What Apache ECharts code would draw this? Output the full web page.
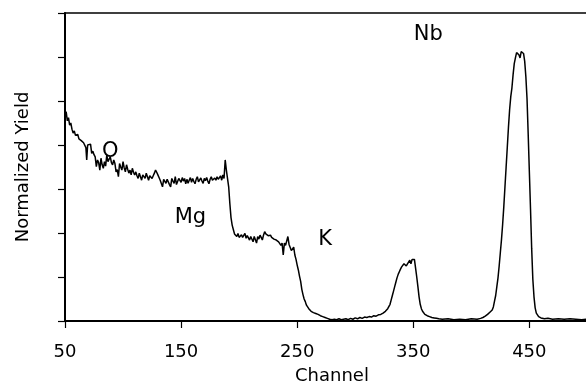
<!DOCTYPE html>
<html>
<head>
    <meta charset="utf-8">
    <style type="text/css" media="screen">
        html,body {
            margin: 0px; padding: 0px; height: 100%; background: #fff;
        }
    </style>
    <script src="https://cdn.jsdelivr.net/npm/echarts@6/dist/echarts.min.js"></script>
</head>
<body>
    <div id="canvas1" style="width: 586px; height: 387px;"></div>

    <script type="text/javascript">
        // spectrum: channel -> normalized yield
        var channels = [
            51,52,53,54,55,56,57,58,59,60,61,62,63,64,65,66,67,68,68.7,69.5,
            71,72,73,74,75,76,77,78,79,80,81,82,83,84,85,86,87,88,89,90,
            91,92,93,94,95,96,97,98,99,100,101,102,103,104,105,106,107,108,109,110,
            111,112,113,114,115,116,117,118,119,120,121,122,123,124,125,126,127,128,129,130,
            131,132,133,134,135,136,137,138,139,140,141,142,143,144,145,146,147,148,149,150,
            151,152,153,154,155,156,157,158,159,160,161,162,163,164,165,166,167,168,169,170,
            171,172,173,174,175,176,177,178,179,180,181,182,183,184,185,186,187,188,189,190,
            191,192,193,194,195,196,197,198,199,200,201,202,203,204,205,206,207,208,209,210,
            211,212,213,214,215,216,217,218,219,220,221,222,223,224,225,226,227,228,229,230,
            231,232,233,234,235,236,237,238,239,240,241,242,243,244,245,246,247,248,249,250,
            251,252,253,254,255,256,257,258,259,260,261,262,263,264,265,266,267,268,269,270,
            272,274,276,278,280,282,284,286,288,290,292,294,296,298,300,302,304,306,308,310,
            312,314,316,318,320,322,324,326,328,330,331,332,333,334,335,336,337,338,339,340,
            341,342,343,344,345,346,347,348,349,350,351,352,353,354,355,356,357,358,359,360,
            362,364,366,368,370,372,375,380,385,390,395,400,405,408,410,412,414,416,418,419,
            420,421,422,423,424,425,426,427,428,429,430,431,432,433,434,435,436,437,438,439,
            440,441,442,443,444,445,446,447,448,449,450,451,452,453,454,455,456,458,460,463,
            466,470,475,480,485,490,495,500,505
        ];
        var yields = [
            4.76,4.55,4.62,4.45,4.50,4.36,4.27,4.32,4.22,4.19,4.24,4.14,4.16,4.10,4.13,4.05,4.08,3.94,3.66,4.00,
            3.96,4.02,3.81,3.86,3.78,3.73,3.51,3.66,3.60,3.43,3.70,3.55,3.47,3.62,3.52,3.77,3.62,3.68,3.73,3.60,
            3.55,3.66,3.58,3.39,3.44,3.28,3.58,3.50,3.43,3.62,3.48,3.39,3.55,3.45,3.36,3.43,3.32,3.47,3.38,3.32,
            3.39,3.30,3.24,3.36,3.28,3.20,3.32,3.30,3.24,3.36,3.28,3.20,3.30,3.26,3.24,3.30,3.36,3.43,3.38,3.32,
            3.26,3.20,3.24,3.05,3.22,3.26,3.13,3.22,3.24,3.10,3.05,3.24,3.18,3.13,3.28,3.10,3.07,3.24,3.20,3.15,
            3.26,3.18,3.24,3.12,3.22,3.13,3.20,3.26,3.15,3.24,3.17,3.12,3.22,3.28,3.16,3.20,3.25,3.18,3.13,3.24,
            3.19,3.26,3.18,3.12,3.22,3.28,3.20,3.17,3.25,3.20,3.28,3.22,3.26,3.30,3.20,3.32,3.24,3.66,3.43,3.47,
            3.05,2.67,2.35,2.18,2.08,1.98,1.95,1.92,1.99,1.90,1.92,1.96,1.90,1.92,1.99,1.88,1.94,1.95,1.84,1.92,
            1.88,1.80,1.92,1.96,1.77,1.92,1.86,1.95,1.90,1.84,1.95,2.03,1.98,1.99,1.94,1.92,1.95,1.90,1.88,1.86,
            1.88,1.84,1.82,1.80,1.77,1.72,1.77,1.50,1.77,1.72,1.70,1.92,1.74,1.72,1.60,1.64,1.68,1.50,1.40,1.27,
            1.16,1.02,0.90,0.72,0.60,0.50,0.44,0.36,0.32,0.28,0.25,0.22,0.20,0.19,0.18,0.17,0.16,0.15,0.14,0.12,
            0.10,0.08,0.06,0.04,0.03,0.04,0.03,0.05,0.03,0.04,0.05,0.03,0.06,0.04,0.07,0.05,0.08,0.06,0.09,0.08,
            0.10,0.09,0.12,0.11,0.14,0.15,0.18,0.22,0.28,0.38,0.48,0.58,0.68,0.78,0.88,0.98,1.06,1.12,1.18,1.23,
            1.27,1.30,1.31,1.25,1.30,1.28,1.38,1.30,1.40,1.42,1.40,1.20,1.00,0.78,0.55,0.38,0.28,0.22,0.18,0.15,
            0.12,0.10,0.08,0.07,0.06,0.05,0.04,0.05,0.03,0.04,0.03,0.05,0.04,0.06,0.08,0.11,0.15,0.20,0.25,0.32,
            0.45,0.58,0.78,0.98,1.25,1.55,1.85,2.20,2.60,3.05,3.50,3.95,4.40,4.80,5.10,5.30,5.60,5.85,5.98,6.10,
            6.14,6.05,5.98,6.12,6.16,6.08,5.90,5.55,5.05,4.25,3.40,2.55,1.65,0.95,0.55,0.30,0.18,0.10,0.07,0.05,
            0.06,0.04,0.05,0.04,0.05,0.04,0.03,0.04,0.04
        ];

        // element labels placed in data coordinates
        var peakNames = ["O", "Mg", "K", "Nb"];
        var peakChannels = [89, 158, 274, 363];
        var peakYields = [3.84, 2.35, 1.85, 6.5];

        var xTicks = [50, 150, 250, 350, 450];

        var FONT = "DejaVu Sans";

        var spectrum = [];
        for (var i = 0; i < channels.length; i++) {
            spectrum.push([channels[i], yields[i]]);
        }
        var labels = [];
        for (var j = 0; j < peakNames.length; j++) {
            labels.push({ name: peakNames[j], value: [peakChannels[j], peakYields[j]] });
        }

        var myChart1 = echarts.init(document.getElementById("canvas1"), null, { renderer: "canvas" });

        var option1 = {
            animation: false,
            backgroundColor: "#fff",
            grid: {
                left: 65, width: 534, top: 13, bottom: 66,
                show: true, borderColor: "#000", borderWidth: 1.5,
                containLabel: false,
                outerBoundsMode: "none"
            },
            xAxis: {
                type: "value",
                min: xTicks[0], max: 510, interval: 100,
                name: "Channel",
                nameLocation: "middle",
                nameGap: 46,
                nameTextStyle: { color: "#000", fontFamily: FONT, fontSize: 18 },
                axisLine: { lineStyle: { color: "#000", width: 2 } },
                axisTick: { show: true, inside: false, length: 7, lineStyle: { color: "#000", width: 1.2 } },
                axisLabel: { color: "#000", fontFamily: FONT, fontSize: 18, margin: 22, showMaxLabel: false },
                splitLine: { show: false }
            },
            yAxis: {
                type: "value",
                min: 0, max: 7, interval: 1,
                name: "Normalized Yield",
                nameLocation: "middle",
                nameRotate: 90,
                nameGap: 33,
                nameTextStyle: { color: "#000", fontFamily: FONT, fontSize: 18 },
                axisLine: { show: true, lineStyle: { color: "#000", width: 2 } },
                axisTick: { show: true, inside: false, length: 7, lineStyle: { color: "#000", width: 1.2 } },
                axisLabel: { show: false },
                splitLine: { show: false }
            },
            series: [{
                type: "line",
                data: spectrum,
                showSymbol: false,
                smooth: false,
                lineStyle: { color: "#000", width: 1.5 }
            }, {
                type: "scatter",
                data: labels,
                symbolSize: 0,
                itemStyle: { opacity: 1 },
                label: {
                    show: true, position: "inside",
                    formatter: "{b}",
                    color: "#000", fontFamily: FONT, fontSize: 21
                }
            }]
        };

        myChart1.setOption(option1);
    </script>
</body>
</html>
